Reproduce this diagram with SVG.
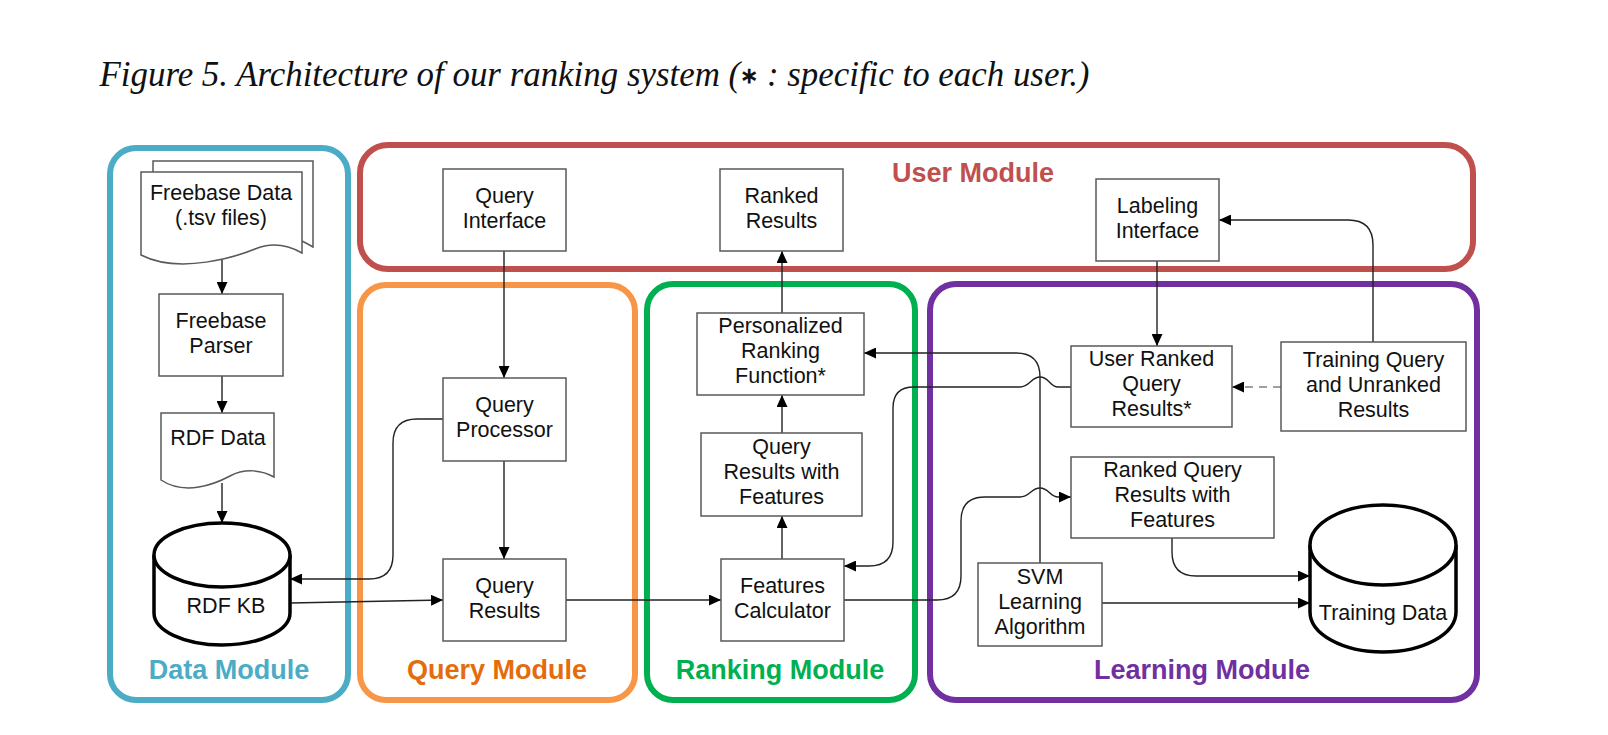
<svg xmlns="http://www.w3.org/2000/svg" width="1608" height="735" viewBox="0 0 1608 735">
<defs>
<style>
.frame{fill:none;stroke-width:6}
.box{fill:#fff;stroke:#595959;stroke-width:1.5}
.cyl{fill:#fff;stroke:#000;stroke-width:3.5}
.t{font-family:"Liberation Sans",Arial,sans-serif;font-size:21.5px;fill:#111;text-anchor:middle}
.mod{font-family:"Liberation Sans",Arial,sans-serif;font-size:27px;font-weight:bold;text-anchor:middle}
.c{fill:none;stroke:#222;stroke-width:1.4;marker-end:url(#ah)}
.dash{fill:none;stroke:#808080;stroke-width:1.6;stroke-dasharray:8 6;marker-end:url(#ah)}
</style>
<marker id="ah" viewBox="0 0 12 11" refX="12" refY="5.5" markerWidth="12" markerHeight="11" markerUnits="userSpaceOnUse" orient="auto">
<path d="M0,0 L12,5.5 L0,11 Z" fill="#000"/>
</marker>
</defs>
<rect width="1608" height="735" fill="#fff"/>
<text x="99.5" y="86" font-family="'Liberation Serif','Times New Roman',serif" font-style="italic" font-size="35" textLength="990" lengthAdjust="spacingAndGlyphs" fill="#111">Figure 5. Architecture of our ranking system (<tspan font-size="22" font-weight="bold" font-style="normal" dy="-3">∗</tspan><tspan dy="3"> : specific to each user.)</tspan></text>

<g id="data-module">
<rect class="frame" x="110" y="148" width="238" height="552" rx="26" stroke="#4BACC6"/>
<text class="mod" x="229" y="679" fill="#4BACC6">Data Module</text>
</g>
<g id="user-module">
<rect class="frame" x="360" y="145" width="1113" height="124" rx="28" stroke="#C0504D"/>
<text class="mod" x="973" y="182" fill="#C0504D">User Module</text>
</g>
<g id="query-module">
<rect class="frame" x="360" y="285" width="275" height="415" rx="26" stroke="#F79646"/>
<text class="mod" x="497" y="679" fill="#E46C0A">Query Module</text>
</g>
<g id="ranking-module">
<rect class="frame" x="647" y="284" width="268" height="416" rx="26" stroke="#00B050"/>
<text class="mod" x="780" y="679" fill="#00B050">Ranking Module</text>
</g>
<g id="learning-module">
<rect class="frame" x="930" y="284" width="547" height="416" rx="26" stroke="#7030A0"/>
<text class="mod" x="1202" y="679" fill="#7030A0">Learning Module</text>
</g>

<g id="connectors">
<path class="c" d="M222,259 V294"/>
<path class="c" d="M222,376 V413"/>
<path class="c" d="M222,483 V523"/>
<path class="c" d="M443,419 H417 Q393,419 393,443 V555 Q393,579 369,579 H290"/>
<path class="c" d="M290,603 L443,600"/>
<path class="c" d="M504,251 V378"/>
<path class="c" d="M504,461 V559"/>
<path class="c" d="M566,600 H721"/>
<path class="c" d="M782,559 V516"/>
<path class="c" d="M782,433 V395"/>
<path class="c" d="M782,313 V251"/>
<path class="c" d="M1040,563 V377 Q1040,353 1016,353 H864"/>
<path class="c" d="M1071,387 H1058 C1050,387 1049,377 1040,377 C1031,377 1030,387 1020,387 H914 Q893,387 893,408 V542 Q893,566 869,566 H844"/>
<path class="c" d="M844,600 H937 Q961,600 961,576 V521 Q961,497 985,497 H1020 C1030,497 1031,488 1040,488 C1049,488 1050,497 1058,497 H1071"/>
<path class="c" d="M1157,261 V346"/>
<path class="c" d="M1373,342 V245 Q1373,220 1348,220 H1219"/>
<path class="dash" d="M1281,387 H1232"/>
<path class="c" d="M1172,538 V552 Q1172,576 1196,576 H1310"/>
<path class="c" d="M1102,603 H1310"/>
</g>

<g id="freebase-data">
<path class="box" d="M153,172 V161 H313 V247 Q308,244 302,241"/>
<path class="box" d="M141,172 H302 V253 C288,245 272,242 255,249 S180,275 141,255 Z"/>
<text class="t" x="221" y="200">Freebase Data</text>
<text class="t" x="221" y="225">(.tsv files)</text>
</g>
<g id="freebase-parser">
<rect class="box" x="159" y="294" width="124" height="82"/>
<text class="t" x="221" y="328">Freebase</text>
<text class="t" x="221" y="353">Parser</text>
</g>
<g id="rdf-data">
<path class="box" d="M161,413 H274 V477 C262,470 245,468 230,476 S185,496 161,480 Z"/>
<text class="t" x="218" y="445">RDF Data</text>
</g>
<g id="rdf-kb">
<path class="cyl" d="M154,555 A68,32 0 0 1 290,555 V613 A68,32 0 0 1 154,613 Z"/>
<path class="cyl" d="M154,555 A68,32 0 0 0 290,555" fill="none"/>
<text class="t" x="226" y="613">RDF KB</text>
</g>
<g id="query-interface">
<rect class="box" x="443" y="169" width="123" height="82"/>
<text class="t" x="504.5" y="203">Query</text>
<text class="t" x="504.5" y="228">Interface</text>
</g>
<g id="query-processor">
<rect class="box" x="443" y="378" width="123" height="83"/>
<text class="t" x="504.5" y="412">Query</text>
<text class="t" x="504.5" y="437">Processor</text>
</g>
<g id="query-results">
<rect class="box" x="443" y="559" width="123" height="82"/>
<text class="t" x="504.5" y="593">Query</text>
<text class="t" x="504.5" y="618">Results</text>
</g>
<g id="ranked-results">
<rect class="box" x="720" y="169" width="123" height="82"/>
<text class="t" x="781.5" y="203">Ranked</text>
<text class="t" x="781.5" y="228">Results</text>
</g>
<g id="personalized-ranking-function">
<rect class="box" x="697" y="313" width="167" height="82"/>
<text class="t" x="780.5" y="333">Personalized</text>
<text class="t" x="780.5" y="358">Ranking</text>
<text class="t" x="780.5" y="383">Function*</text>
</g>
<g id="query-results-with-features">
<rect class="box" x="701" y="433" width="161" height="83"/>
<text class="t" x="781.5" y="454">Query</text>
<text class="t" x="781.5" y="479">Results with</text>
<text class="t" x="781.5" y="504">Features</text>
</g>
<g id="features-calculator">
<rect class="box" x="721" y="559" width="123" height="82"/>
<text class="t" x="782.5" y="593">Features</text>
<text class="t" x="782.5" y="618">Calculator</text>
</g>
<g id="labeling-interface">
<rect class="box" x="1096" y="179" width="123" height="82"/>
<text class="t" x="1157.5" y="213">Labeling</text>
<text class="t" x="1157.5" y="238">Interface</text>
</g>
<g id="user-ranked-query-results">
<rect class="box" x="1071" y="346" width="161" height="81"/>
<text class="t" x="1151.5" y="366">User Ranked</text>
<text class="t" x="1151.5" y="391">Query</text>
<text class="t" x="1151.5" y="416">Results*</text>
</g>
<g id="training-query">
<rect class="box" x="1281" y="342" width="185" height="89"/>
<text class="t" x="1373.5" y="367">Training Query</text>
<text class="t" x="1373.5" y="392">and Unranked</text>
<text class="t" x="1373.5" y="417">Results</text>
</g>
<g id="ranked-query-results-with-features">
<rect class="box" x="1071" y="457" width="203" height="81"/>
<text class="t" x="1172.5" y="477">Ranked Query</text>
<text class="t" x="1172.5" y="502">Results with</text>
<text class="t" x="1172.5" y="527">Features</text>
</g>
<g id="svm-learning-algorithm">
<rect class="box" x="978" y="563" width="124" height="83"/>
<text class="t" x="1040" y="584">SVM</text>
<text class="t" x="1040" y="609">Learning</text>
<text class="t" x="1040" y="634">Algorithm</text>
</g>
<g id="training-data">
<path class="cyl" d="M1310,545 A73,40 0 0 1 1456,545 V612 A73,40 0 0 1 1310,612 Z"/>
<path class="cyl" d="M1310,545 A73,40 0 0 0 1456,545" fill="none"/>
<text class="t" x="1383" y="620">Training Data</text>
</g>
</svg>
